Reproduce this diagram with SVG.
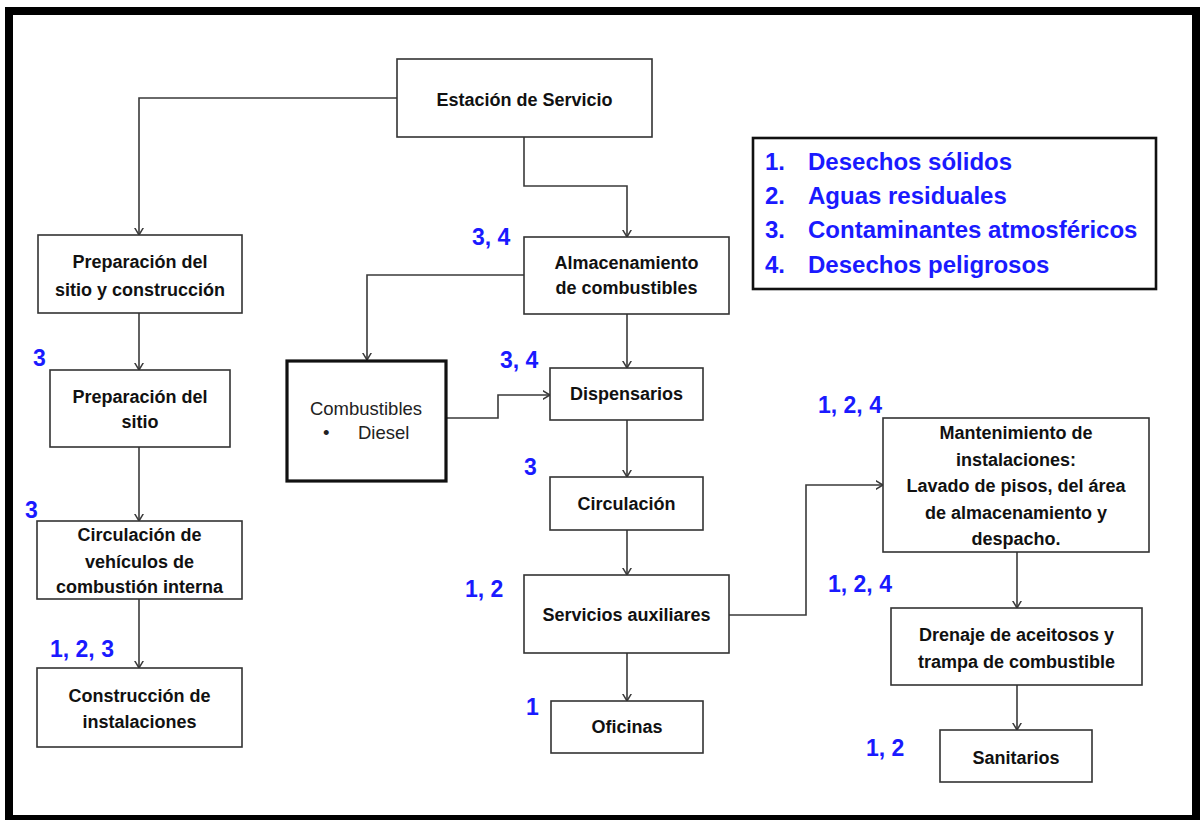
<svg xmlns="http://www.w3.org/2000/svg" width="1200" height="820" viewBox="0 0 1200 820">
<style>
.frame{fill:none;stroke:#000;stroke-width:8}
.box{fill:#fff;stroke:#333;stroke-width:1.6}
.thick{fill:#fff;stroke:#111;stroke-width:3.2}
.t{font-family:"Liberation Sans",Arial,sans-serif;font-weight:bold;font-size:18px;fill:#111;text-anchor:middle}
.r{font-family:"Liberation Sans",Arial,sans-serif;font-size:18.5px;fill:#222}
.lab{font-family:"Liberation Sans",Arial,sans-serif;font-weight:bold;font-size:23px;fill:#1a1aff}
.leg{font-family:"Liberation Sans",Arial,sans-serif;font-weight:bold;font-size:24px;fill:#1a1aff}
.c{fill:none;stroke:#3a3a3a;stroke-width:1.6;marker-end:url(#ah)}
</style>
<defs>
<marker id="ah" viewBox="0 0 8 10" refX="7.5" refY="5" markerWidth="8" markerHeight="10" markerUnits="userSpaceOnUse" orient="auto">
<path d="M0,0.5 L7.5,5 L0,9.5" fill="none" stroke="#3a3a3a" stroke-width="1.5"/>
</marker>
</defs>
<rect width="1200" height="820" fill="#fff"/>
<rect class="frame" x="9" y="11" width="1187" height="808"/>

<g id="connectors">
<path class="c" d="M397,98 H139 V235"/>
<path class="c" d="M524,137 V186 H627 V237"/>
<path class="c" d="M139,313 V370"/>
<path class="c" d="M139,447 V521"/>
<path class="c" d="M139,599 V668"/>
<path class="c" d="M524,275 H367 V360"/>
<path class="c" d="M627,314 V368"/>
<path class="c" d="M446,418 H498 V395 H550"/>
<path class="c" d="M627,420 V477"/>
<path class="c" d="M627,530 V575"/>
<path class="c" d="M627,653 V701"/>
<path class="c" d="M729,615 H806 V485 H883"/>
<path class="c" d="M1017,552 V608"/>
<path class="c" d="M1017,685 V730"/>
</g>

<g id="estacion">
<rect class="box" x="397" y="59" width="255" height="78"/>
<text class="t" x="524.5" y="106">Estación de Servicio</text>
</g>

<g id="legend">
<rect x="753" y="138" width="403" height="151" fill="#fff" stroke="#111" stroke-width="2.6"/>
<text class="leg" x="765" y="170">1.</text><text class="leg" x="808" y="170">Desechos sólidos</text>
<text class="leg" x="765" y="204">2.</text><text class="leg" x="808" y="204">Aguas residuales</text>
<text class="leg" x="765" y="238">3.</text><text class="leg" x="808" y="238">Contaminantes atmosféricos</text>
<text class="leg" x="765" y="273">4.</text><text class="leg" x="808" y="273">Desechos peligrosos</text>
</g>

<g id="prep-construccion">
<rect class="box" x="38" y="235" width="204" height="78"/>
<text class="t" x="140" y="268">Preparación del</text>
<text class="t" x="140" y="296">sitio y construcción</text>
</g>

<g id="prep-sitio">
<rect class="box" x="50" y="370" width="180" height="77"/>
<text class="t" x="140" y="403">Preparación del</text>
<text class="t" x="140" y="428">sitio</text>
<text class="lab" x="33" y="366">3</text>
</g>

<g id="circulacion-vehiculos">
<rect class="box" x="37" y="521" width="205" height="78"/>
<text class="t" x="139.5" y="541">Circulación de</text>
<text class="t" x="139.5" y="568">vehículos de</text>
<text class="t" x="139.5" y="593">combustión interna</text>
<text class="lab" x="25" y="518">3</text>
</g>

<g id="construccion">
<rect class="box" x="37" y="668" width="205" height="79"/>
<text class="t" x="139.5" y="702">Construcción de</text>
<text class="t" x="139.5" y="728">instalaciones</text>
<text class="lab" x="50" y="657">1, 2, 3</text>
</g>

<g id="almacenamiento">
<rect class="box" x="524" y="237" width="205" height="77"/>
<text class="t" x="626.5" y="269">Almacenamiento</text>
<text class="t" x="626.5" y="294">de combustibles</text>
<text class="lab" x="472" y="245">3, 4</text>
</g>

<g id="combustibles">
<rect class="thick" x="287" y="361" width="159" height="120"/>
<text class="r" x="366" y="415" text-anchor="middle">Combustibles</text>
<text class="r" x="323" y="439">•</text>
<text class="r" x="358" y="439">Diesel</text>
</g>

<g id="dispensarios">
<rect class="box" x="550" y="368" width="153" height="52"/>
<text class="t" x="626.5" y="400">Dispensarios</text>
<text class="lab" x="500" y="368">3, 4</text>
</g>

<g id="circulacion">
<rect class="box" x="550" y="477" width="153" height="53"/>
<text class="t" x="626.5" y="510">Circulación</text>
<text class="lab" x="524" y="475">3</text>
</g>

<g id="servicios">
<rect class="box" x="524" y="575" width="205" height="78"/>
<text class="t" x="626.5" y="621">Servicios auxiliares</text>
<text class="lab" x="465" y="597">1, 2</text>
</g>

<g id="oficinas">
<rect class="box" x="551" y="701" width="152" height="52"/>
<text class="t" x="627" y="733">Oficinas</text>
<text class="lab" x="526" y="715">1</text>
</g>

<g id="mantenimiento">
<rect class="box" x="883" y="418" width="266" height="134"/>
<text class="t" x="1016" y="439">Mantenimiento de</text>
<text class="t" x="1016" y="466">instalaciones:</text>
<text class="t" x="1016" y="492">Lavado de pisos, del área</text>
<text class="t" x="1016" y="519">de almacenamiento y</text>
<text class="t" x="1016" y="545">despacho.</text>
<text class="lab" x="818" y="413">1, 2, 4</text>
</g>

<g id="drenaje">
<rect class="box" x="891" y="608" width="251" height="77"/>
<text class="t" x="1016.5" y="641">Drenaje de aceitosos y</text>
<text class="t" x="1016.5" y="668">trampa de combustible</text>
<text class="lab" x="828" y="592">1, 2, 4</text>
</g>

<g id="sanitarios">
<rect class="box" x="940" y="730" width="152" height="52"/>
<text class="t" x="1016" y="764">Sanitarios</text>
<text class="lab" x="866" y="756">1, 2</text>
</g>
</svg>
